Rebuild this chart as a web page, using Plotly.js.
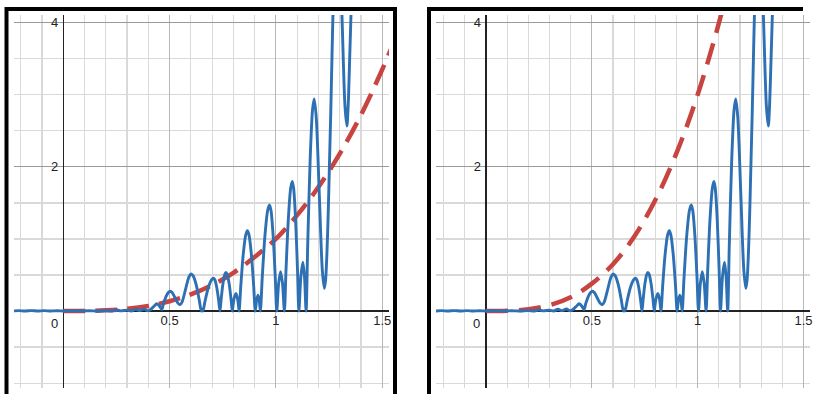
<!DOCTYPE html>
<html><head><meta charset="utf-8">
<script src="https://cdn.plot.ly/plotly-3.0.1.min.js"></script>
<style>html,body{margin:0;padding:0;background:#fff}#chart{width:813px;height:394px}</style>
</head><body><div id="chart"></div>
<script>
// ---- data ----
const blueX = [-0.24,-0.21,-0.18,-0.15,-0.12,-0.09,-0.06,-0.03,0,0.04,0.08,0.12,0.16,0.2,0.23,0.25,0.27,0.3,0.32,0.34,0.36,0.38,0.395,0.405,0.425,0.44,0.452,0.463,0.471,0.483,0.495,0.503,0.512,0.526,0.54,0.549,0.559,0.575,0.591,0.601,0.611,0.625,0.639,0.649,0.653,0.657,0.667,0.682,0.697,0.707,0.713,0.722,0.731,0.737,0.7426,0.751,0.7594,0.765,0.771,0.78,0.789,0.795,0.7984,0.8035,0.812,0.8195,0.824,0.827,0.8348,0.8465,0.8582,0.866,0.8734,0.8845,0.8956,0.903,0.9095,0.916,0.9215,0.927,0.9356,0.9485,0.9614,0.97,0.9768,0.987,0.9972,1.004,1.013,1.022,1.031,1.04,1.0474,1.0585,1.0696,1.077,1.0832,1.0925,1.1018,1.108,1.1175,1.127,1.1345,1.142,1.1496,1.161,1.1724,1.18,1.1896,1.204,1.2184,1.228,1.234,1.24,1.246,1.252,1.258,1.264,1.27,1.28,1.289,1.298,1.3115,1.325,1.334,1.34,1.347,1.354,1.362,1.37];
const blueY = [0,0.005,0,0.006,0,0.005,0,0.004,0,0.003,0,0.004,0,0.006,0,0.018,0.002,0.012,0,0.025,0.005,0.03,0.005,0.01,0.06,0.10,0.07,0.02,0.10,0.2,0.26,0.275,0.257,0.18,0.106,0.088,0.128,0.301,0.474,0.514,0.488,0.365,0.159,0,0.025,0,0.141,0.322,0.431,0.454,0.431,0.322,0.141,0,0.166,0.38,0.508,0.535,0.508,0.38,0.166,0,0.076,0.174,0.245,0.174,0.076,0,0.345,0.79,1.057,1.113,1.057,0.79,0.345,0,0.156,0.22,0.156,0,0.456,1.045,1.398,1.472,1.398,1.045,0.456,0,0.386,0.546,0.386,0,0.557,1.275,1.706,1.796,1.706,1.275,0.557,0,0.48,0.676,0.48,0,0.913,2.09,2.797,2.944,2.694,1.63,0.565,0.315,0.44,0.8,1.35,2.05,2.75,3.55,4.3,5.2,5.5,5.22,4.03,2.84,2.565,2.85,3.5,4.2,5.2,6.3];

const redLeftX = [0,0.1,0.2,0.3,0.4,0.5,0.6,0.7,0.8,0.9,1.0,1.1,1.2,1.3,1.4,1.5,1.6];
const redLeftY = [0,0.002,0.01,0.03,0.07,0.135,0.23,0.36,0.53,0.75,1.0,1.33,1.72,2.18,2.72,3.35,4.05];
const redRightX = [0,0.1,0.2,0.3,0.4,0.5,0.6,0.7,0.8,0.9,1.0,1.1,1.2];
const redRightY = [0,0.004,0.025,0.08,0.19,0.38,0.65,1.03,1.54,2.19,3.0,3.99,5.18];

const xTickVals = [0.5, 1, 1.5];
const xTickText = ['0.5', '1', '1.5'];
const yTickVals = [2, 4];
const yTickText = ['2', '4'];
const originLabel = '0';

// ---- layout helpers (pixel geometry of the picture) ----
const W = 813, H = 394;
const fx = p => p / W;
const fy = p => 1 - p / H;

const BLUE = '#2d70b3', RED = '#c74440';
const FONT = {family: 'Liberation Sans, Arial, sans-serif', size: 13, color: '#222'};

function xAxis(d0, d1, range) {
  return {
    domain: [fx(d0), fx(d1)], range: range, anchor: 'free', position: fy(311),
    tickmode: 'array', tickvals: xTickVals, ticktext: xTickText,
    ticks: '', showline: false, showgrid: true, gridcolor: '#b6b6b6', gridwidth: 1,
    zeroline: true, zerolinecolor: '#222', zerolinewidth: 1.3,
    minor: {tickmode: 'linear', tick0: 0, dtick: 0.1, showgrid: true, gridcolor: '#d9d9d9', gridwidth: 1.2},
    tickfont: FONT, fixedrange: true, layer: 'below traces'
  };
}
function yAxis(range, posPx) {
  return {
    domain: [fy(388), fy(15)], range: range, anchor: 'free', position: fx(posPx),
    tickmode: 'array', tickvals: yTickVals, ticktext: yTickText,
    ticks: '', showline: false, showgrid: true, gridcolor: '#9a9a9a', gridwidth: 1,
    zeroline: true, zerolinecolor: '#222', zerolinewidth: 1.3,
    minor: {tickmode: 'linear', tick0: 0, dtick: 0.5, showgrid: true, gridcolor: '#d9d9d9', gridwidth: 1.2},
    tickfont: FONT, ticklabelstandoff: 5, fixedrange: true
  };
}

const traces = [
  {x: redLeftX, y: redLeftY, xaxis: 'x', yaxis: 'y', mode: 'lines',
   line: {color: RED, width: 4.5, dash: '22px,10px', shape: 'spline'}, hoverinfo: 'skip'},
  {x: blueX, y: blueY, xaxis: 'x', yaxis: 'y', mode: 'lines',
   line: {color: BLUE, width: 2.9, shape: 'spline', smoothing: 0.8}, hoverinfo: 'skip'},
  {x: redRightX, y: redRightY, xaxis: 'x2', yaxis: 'y2', mode: 'lines',
   line: {color: RED, width: 4.5, dash: '22px,11px', shape: 'spline'}, hoverinfo: 'skip'},
  {x: blueX, y: blueY, xaxis: 'x2', yaxis: 'y2', mode: 'lines',
   line: {color: BLUE, width: 2.9, shape: 'spline', smoothing: 0.8}, hoverinfo: 'skip'}
];

const layout = {
  width: W, height: H, margin: {l: 0, r: 0, t: 0, b: 0, pad: 0},
  paper_bgcolor: '#fff', plot_bgcolor: '#fff', showlegend: false,
  font: FONT,
  xaxis: xAxis(14, 389, [-0.2319, 1.532]),
  yaxis: yAxis([-1.068, 4.107], 63.3),
  xaxis2: xAxis(436, 810, [-0.2363, 1.531]),
  yaxis2: yAxis([-1.068, 4.107], 486),
  annotations: [
    {x: 0, y: 0, xref: 'x', yref: 'y', text: originLabel, showarrow: false,
     xanchor: 'right', yanchor: 'top', xshift: -3, yshift: -3, font: FONT},
    {x: 0, y: 0, xref: 'x2', yref: 'y2', text: originLabel, showarrow: false,
     xanchor: 'right', yanchor: 'top', xshift: -4, yshift: -3, font: FONT}
  ],
  shapes: [
    {type: 'rect', xref: 'paper', yref: 'paper', x0: fx(6.5), x1: fx(395), y0: fy(420), y1: fy(9),
     line: {color: '#000', width: 4}, fillcolor: 'rgba(0,0,0,0)'},
    {type: 'line', xref: 'paper', yref: 'paper', x0: fx(429), x1: fx(429), y0: fy(420), y1: fy(7),
     line: {color: '#000', width: 4}},
    {type: 'line', xref: 'paper', yref: 'paper', x0: fx(427), x1: fx(803), y0: fy(9), y1: fy(9),
     line: {color: '#000', width: 4}}
  ]
};

Plotly.newPlot('chart', traces, layout, {staticPlot: true, displayModeBar: false});
</script>
</body></html>
